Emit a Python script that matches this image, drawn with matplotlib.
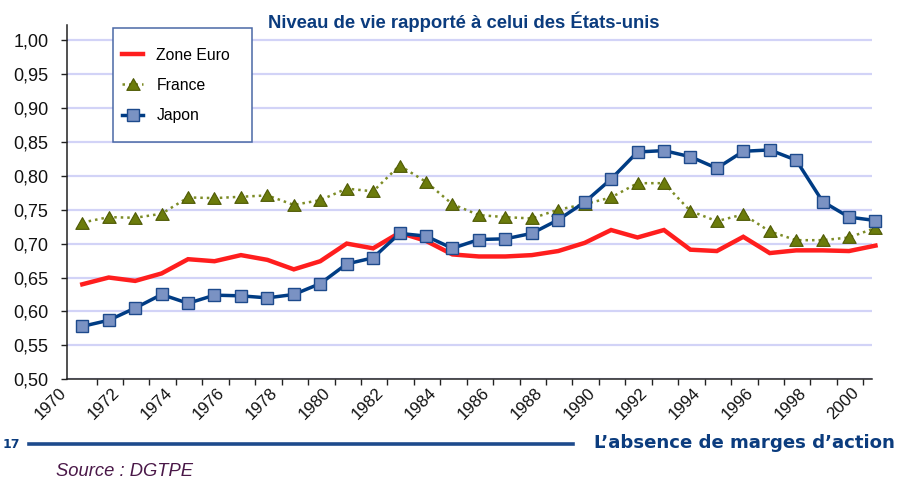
import matplotlib
matplotlib.use("Agg")
import matplotlib.pyplot as plt
from matplotlib.path import Path
from matplotlib.patches import Rectangle
from matplotlib.lines import Line2D
from matplotlib.ticker import FixedLocator, FuncFormatter

plt.rcParams['font.family'] = ['Liberation Sans', 'DejaVu Sans']

years = list(range(1970, 2001))
zone_euro = [0.640, 0.650, 0.645, 0.656, 0.677, 0.674, 0.683, 0.676, 0.662, 0.674,
             0.700, 0.693, 0.716, 0.704, 0.684, 0.681, 0.681, 0.683, 0.689, 0.701,
             0.720, 0.709, 0.720, 0.691, 0.689, 0.710, 0.686, 0.690, 0.690, 0.689,
             0.697]
france = [0.731, 0.739, 0.738, 0.744, 0.768, 0.767, 0.769, 0.771, 0.757, 0.764,
          0.781, 0.777, 0.815, 0.791, 0.758, 0.742, 0.739, 0.737, 0.750, 0.758,
          0.768, 0.789, 0.789, 0.748, 0.733, 0.743, 0.718, 0.705, 0.705, 0.709,
          0.723]
japon = [0.578, 0.587, 0.605, 0.625, 0.612, 0.624, 0.623, 0.620, 0.625, 0.641,
         0.670, 0.679, 0.715, 0.711, 0.693, 0.706, 0.707, 0.715, 0.735, 0.761,
         0.795, 0.835, 0.837, 0.828, 0.811, 0.836, 0.838, 0.823, 0.762, 0.739,
         0.734]
label_years = list(range(1970, 2001, 2))
yticks = [0.50, 0.55, 0.60, 0.65, 0.70, 0.75, 0.80, 0.85, 0.90, 0.95, 1.00]

title = "Niveau de vie rapporté à celui des États-unis"
names = ["Zone Euro", "France", "Japon"]

W, H = 899, 479
fig = plt.figure(figsize=(W / 100, H / 100), dpi=100)
fig.patch.set_facecolor('white')

def fx(px):
    return px / W

def fy(py):
    return 1 - py / H

left, right, bottom, top = 66.7, 872.3, 379.3, 25.0
ax = fig.add_axes([fx(left), fy(bottom), fx(right) - fx(left), fy(top) - fy(bottom)])
ax.set_xlim(1969.41, 1999.88)
ax.set_ylim(0.5, 0.5 + (bottom - top) / 678.6)

for s in ['top', 'right']:
    ax.spines[s].set_visible(False)
for s in ['left', 'bottom']:
    ax.spines[s].set_color('#222222')
    ax.spines[s].set_linewidth(1.1)

# grid
ax.yaxis.set_major_locator(FixedLocator(yticks))
ax.yaxis.set_major_formatter(FuncFormatter(lambda v, p: f"{v:.2f}".replace('.', ',')))
ax.grid(axis='y', color='#d2d3f7', linewidth=1.6, zorder=0)
ax.set_axisbelow(True)
ax.tick_params(axis='y', direction='out', length=4.2, width=1.0, color='#222222',
               labelsize=13, pad=9, labelcolor='#111111')

# x ticks: minor marks at category boundaries, labels as major
ax.xaxis.set_minor_locator(FixedLocator([y + 0.54 for y in years[:-1]]))
ax.xaxis.set_major_locator(FixedLocator([y - 0.5 for y in label_years]))
ax.set_xticklabels([str(y) for y in label_years])
ax.tick_params(axis='x', which='major', length=0, pad=4, labelsize=12.2,
               labelcolor='#111111')
ax.tick_params(axis='x', which='minor', direction='out', length=4, width=1.0,
               color='#222222')
for lab in ax.get_xticklabels():
    lab.set_rotation(45)
    lab.set_ha('right')
    lab.set_va('top')

tri = Path([(0, 0.88), (-1, -0.88), (1, -0.88), (0, 0.88)],
           [Path.MOVETO, Path.LINETO, Path.LINETO, Path.CLOSEPOLY])

l1, = ax.plot(years, zone_euro, color='#ff1e1e', lw=3.2, solid_joinstyle='miter',
              zorder=3, clip_on=False, label=names[0])
l2, = ax.plot(years, france, color='#7d8c26', lw=1.8, linestyle=(0, (1, 1.6)),
              marker=tri, ms=9.6, mfc='#6b7b0c', mec='#4f5a05', mew=0.8,
              zorder=4, clip_on=False, label=names[1])
l3, = ax.plot(years, japon, color='#003c84', lw=2.5, marker='s', ms=8.8,
              mfc='#7a92c3', mec='#1d4a8c', mew=1.0, zorder=5, clip_on=False,
              label=names[2])

# title
fig.text(fx(463.5), fy(21.5), title, ha='center', va='center', fontsize=13.3,
         fontweight='bold', color='#0b3c7e')

# legend frame
fig.patches.append(Rectangle((fx(112.7), fy(141.7)), fx(252.3) - fx(112.7),
                             fy(28.3) - fy(141.7), transform=fig.transFigure,
                             facecolor='white', edgecolor='#4a68a6', lw=1.1,
                             zorder=6))
leg = fig.legend(handles=[l1, l2, l3], labels=names, loc='upper left',
                 bbox_to_anchor=(fx(122), fy(47.5)), bbox_transform=fig.transFigure,
                 frameon=False, borderpad=0, borderaxespad=0, fontsize=11.3,
                 handlelength=1.34, handletextpad=0.85, labelspacing=0.98,
                 numpoints=1)
leg.set_zorder(7)

# footer
fig.text(fx(3), fy(445), "17", ha='left', va='center', fontsize=9,
         fontweight='bold', color='#0b3c7e', family='DejaVu Sans')
fig.add_artist(Line2D([fx(29), fx(573)], [fy(444), fy(444)], transform=fig.transFigure,
                      color='#1d4a8c', lw=2.6))
fig.text(fx(895), fy(443), "L\u2019absence de marges d\u2019action", ha='right',
         va='center', fontsize=13.1, fontweight='bold', color='#0b3c7e',
         family='DejaVu Sans')
fig.text(fx(56), fy(471), "Source : DGTPE", ha='left', va='center', fontsize=13.2,
         style='italic', color='#4a1848')

fig.savefig('out.png', dpi=100, facecolor='white')
